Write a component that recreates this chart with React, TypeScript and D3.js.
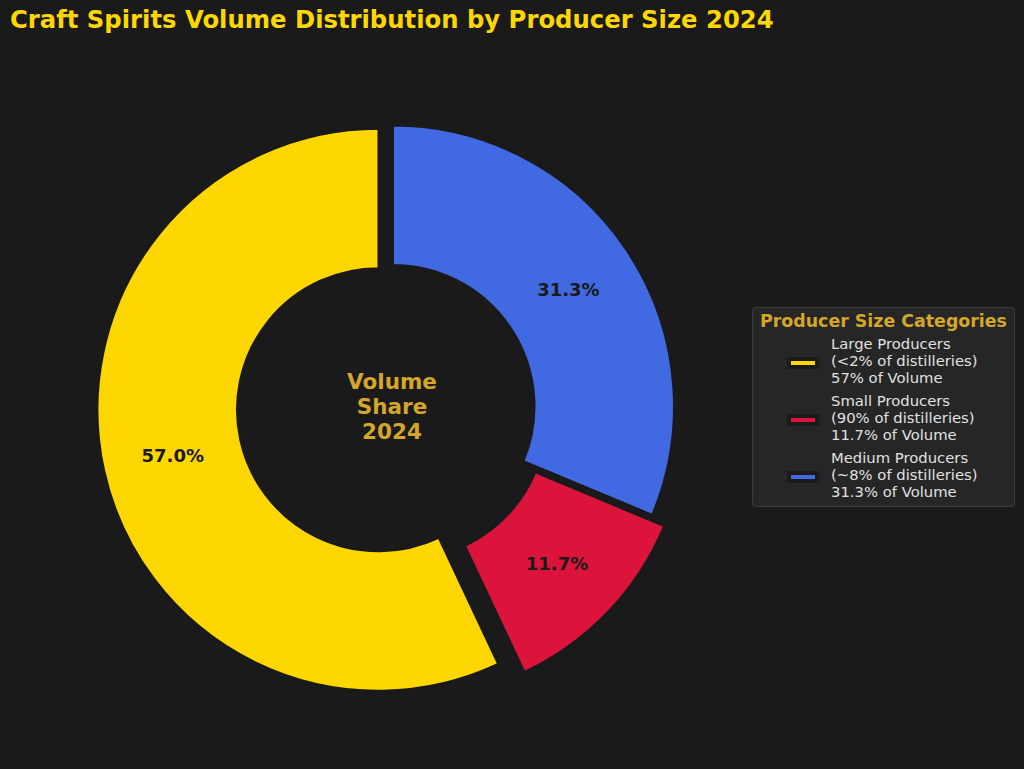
import React from 'react';
import * as d3 from 'd3';

const WIDTH = 1024;
const HEIGHT = 769;

const categories = ['Large Producers', 'Small Producers', 'Medium Producers'];
const volumeShares = [57.0, 11.7, 31.3];
const distilleryShares = ['<2%', '90%', '~8%'];
const volumeLabels = ['57%', '11.7%', '31.3%'];
const sliceColors = ['#FFD700', '#DC143C', '#4169E1'];
const explode = [0.053, 0.058, 0];
const centerLines = ['Volume', 'Share', '2024'];

const BG = '#1a1a1a';
const GOLD = '#FFD700';
const GOLDENROD = '#D4A62A';

interface Slice {
    name: string;
    value: number;
    color: string;
    explode: number;
}

const slices: Slice[] = categories.map((name, i) => ({
    name,
    value: volumeShares[i],
    color: sliceColors[i],
    explode: explode[i],
}));

const App = () => {
    const cx = 393;
    const cy = 406.5;
    const outerR = 281;
    const innerR = 141.5;

    // counter-clockwise from 12 o'clock, like the original
    const pie = d3.pie<Slice>()
        .value(d => d.value)
        .sort(null)
        .startAngle(0)
        .endAngle(-2 * Math.PI);
    const arcs = pie(slices);

    const arc = d3.arc<d3.PieArcDatum<Slice>>()
        .innerRadius(innerR)
        .outerRadius(outerR);

    const total = d3.sum(volumeShares);
    const fmt = d3.format('.1f');

    return (
        <div style={{position: 'fixed', top: 0, left: 0}}>
            <svg width={WIDTH} height={HEIGHT} style={{display: 'block', background: BG}}
                 fontFamily="'DejaVu Sans', sans-serif">
                <rect width={WIDTH} height={HEIGHT} fill={BG}/>
                <text x={10} y={28} fill={GOLD} fontSize={24.3} fontWeight="bold">
                    Craft Spirits Volume Distribution by Producer Size 2024
                </text>

                <g transform={`translate(${cx},${cy})`}>
                    {arcs.map(a => {
                        const mid = (a.startAngle + a.endAngle) / 2;
                        const off = a.data.explode * outerR;
                        const ox = Math.sin(mid) * off;
                        const oy = -Math.cos(mid) * off;
                        const lr = 0.75 * outerR;
                        return (
                            <g key={a.data.name} transform={`translate(${ox},${oy})`}>
                                <path d={arc(a) || ''} fill={a.data.color} stroke={BG} strokeWidth={2}/>
                                <text x={Math.sin(mid) * lr} y={-Math.cos(mid) * lr} dy="0.36em"
                                      textAnchor="middle" fontSize={18} fontWeight="bold" fill={BG}>
                                    {fmt(a.data.value / total * 100)}%
                                </text>
                            </g>
                        );
                    })}
                    {centerLines.map((line, i) => (
                        <text key={line} x={-1} y={-18 + i * 25} textAnchor="middle" fontSize={21.5}
                              fontWeight="bold" fill={GOLDENROD}>
                            {line}
                        </text>
                    ))}
                </g>

                {/* Legend */}
                <g transform="translate(752.5,307.5)">
                    <rect width={262} height={199} rx={3} fill="#262626" stroke="#3c3c3c" strokeWidth={1}/>
                    <text x={131} y={19.5} textAnchor="middle" fontSize={17.4} fontWeight="bold" fill={GOLDENROD}>
                        Producer Size Categories
                    </text>
                    {slices.map((s, i) => {
                        const y0 = 41.5 + i * 57;
                        return (
                            <g key={s.name}>
                                <rect x={36.5} y={y0 + 10} width={28} height={8} fill={s.color}
                                      stroke={BG} strokeWidth={4}/>
                                <text fontSize={14.8} fill="#e0e0e0">
                                    <tspan x={78.5} y={y0}>{s.name}</tspan>
                                    <tspan x={78.5} y={y0 + 17}>({distilleryShares[i]} of distilleries)</tspan>
                                    <tspan x={78.5} y={y0 + 34}>{volumeLabels[i]} of Volume</tspan>
                                </text>
                            </g>
                        );
                    })}
                </g>
            </svg>
        </div>
    );
};

export default App;
